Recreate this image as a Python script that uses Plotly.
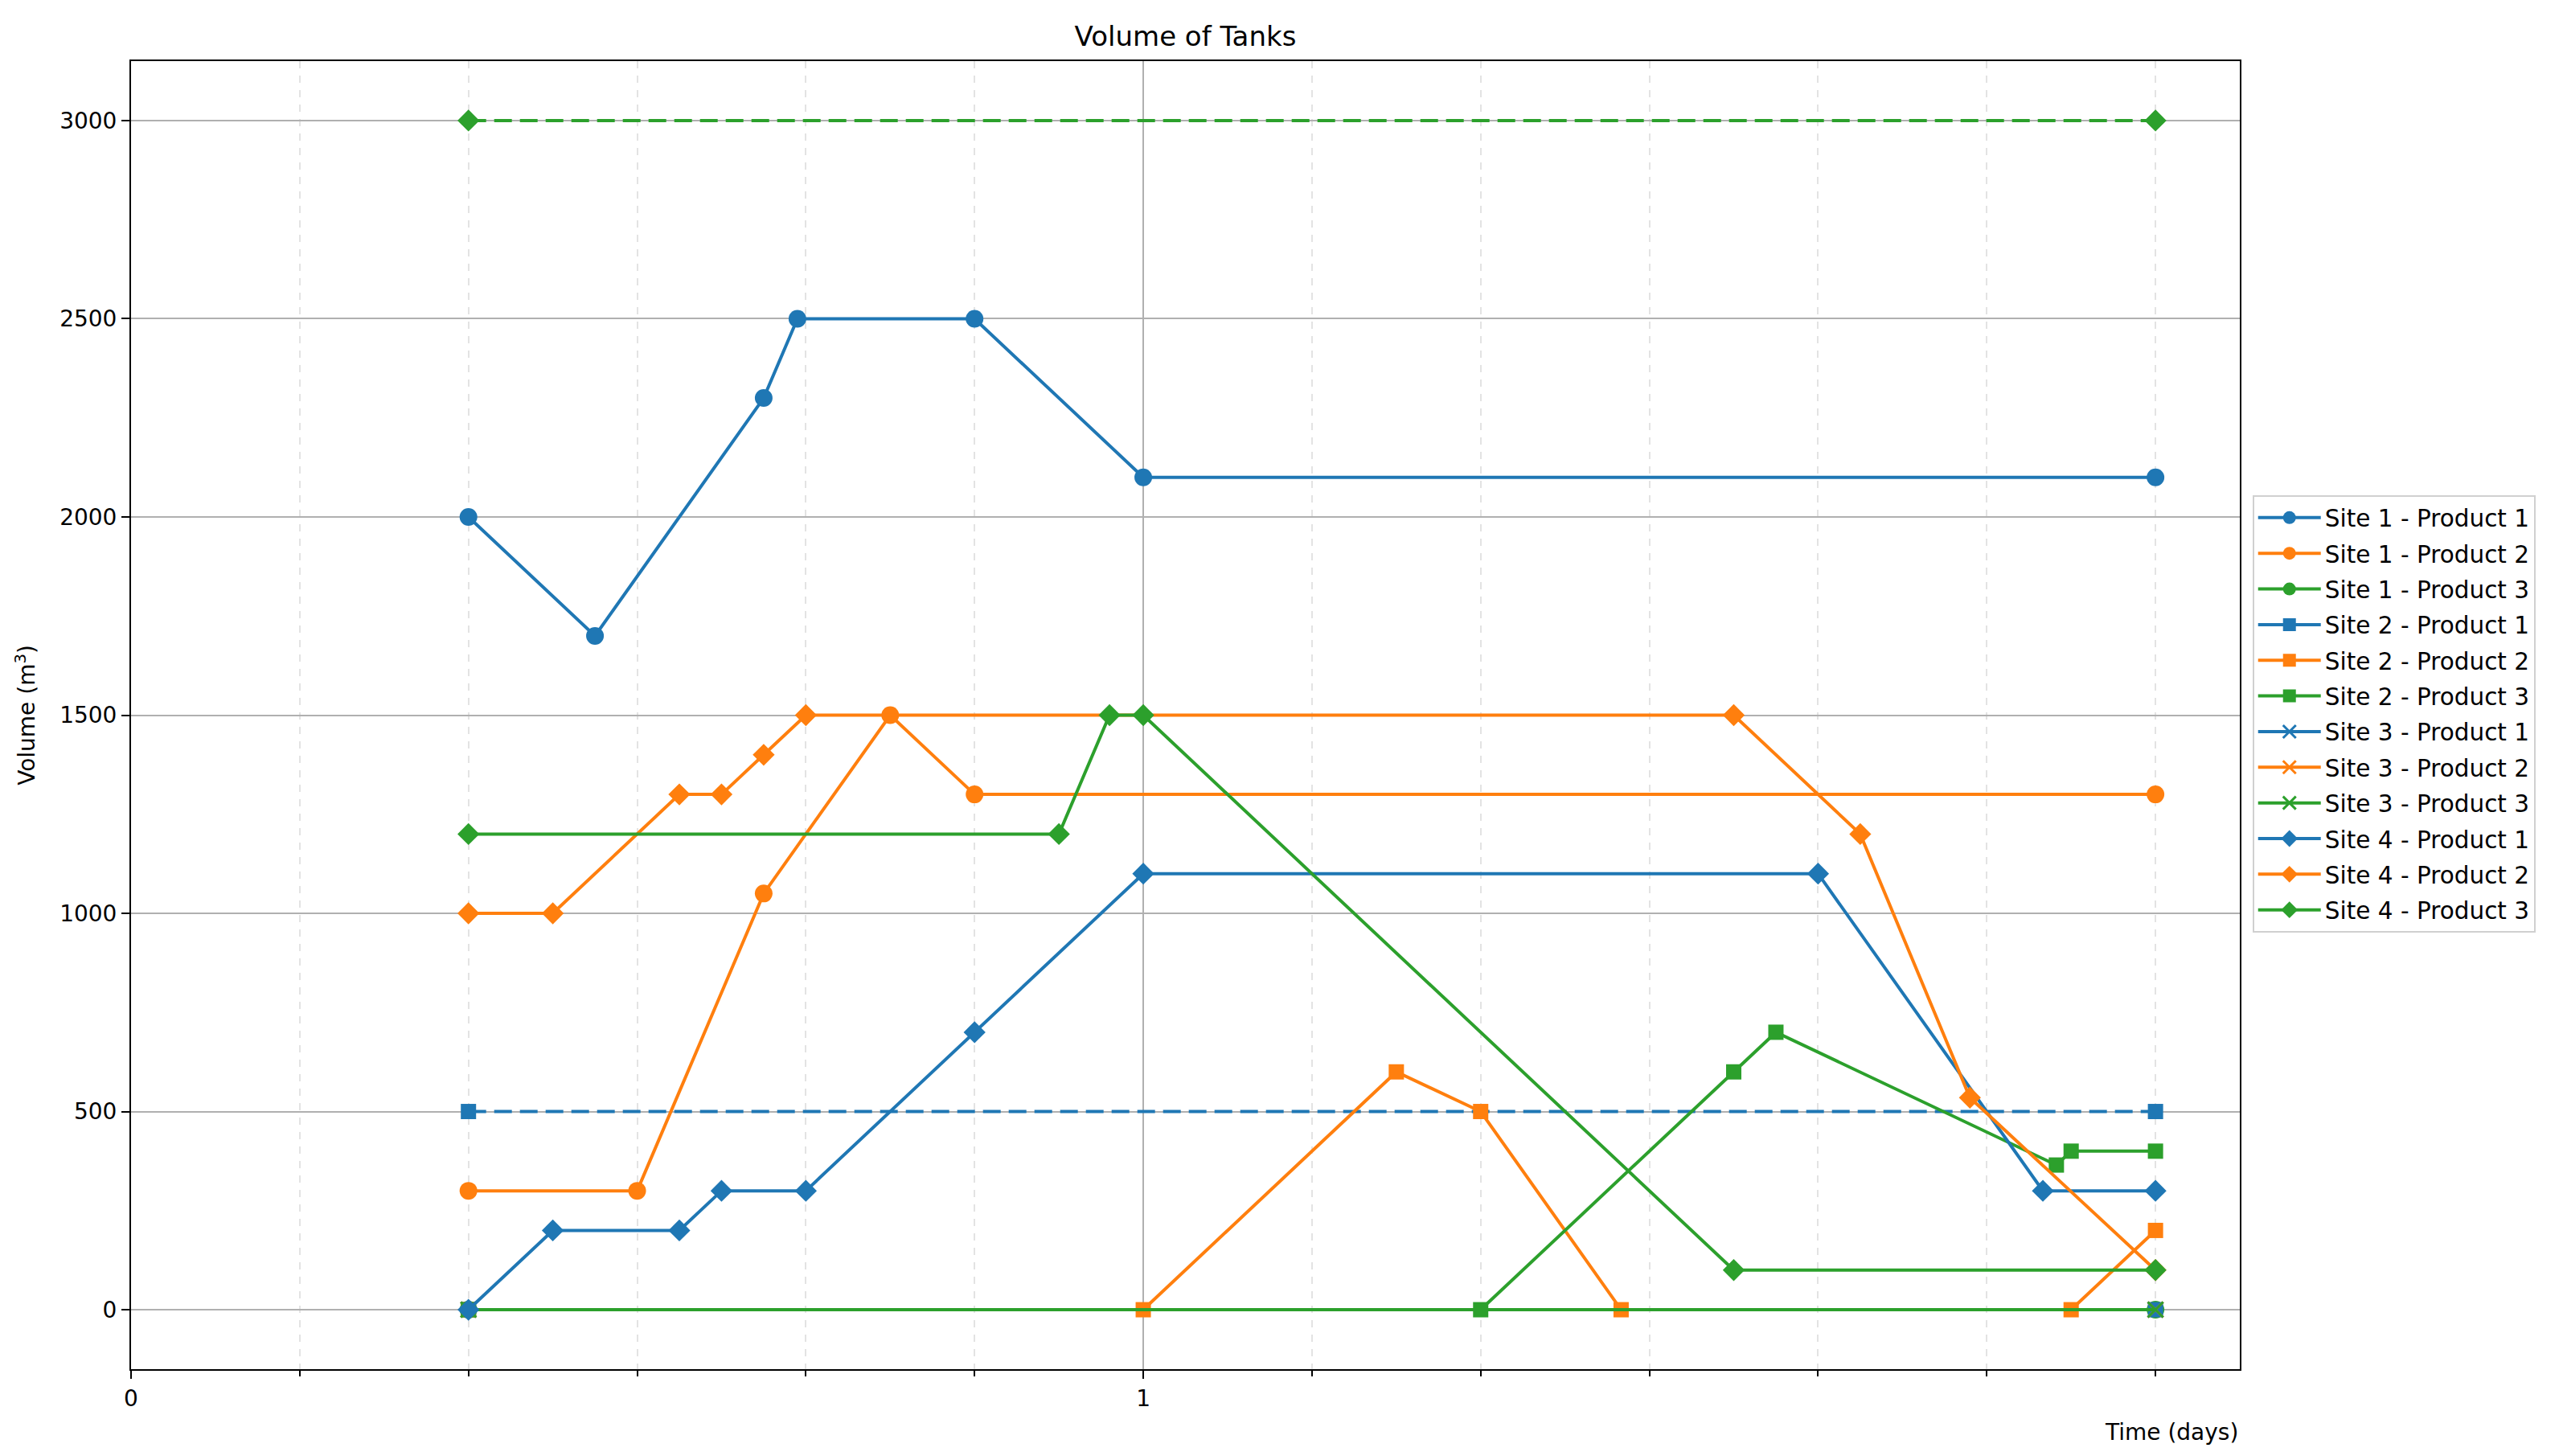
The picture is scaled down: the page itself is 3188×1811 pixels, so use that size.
import plotly.graph_objects as go

# ---------------- data (time in hours, volume in m3) ----------------
s1p1_h = [8, 11, 15, 15.8, 20, 24, 48]
s1p1_v = [2000, 1700, 2300, 2500, 2500, 2100, 2100]

s1p2_h = [8, 12, 15, 18, 20, 48]
s1p2_v = [300, 300, 1050, 1500, 1300, 1300]

s1p3_h = [8, 48]
s1p3_v = [0, 0]

s2p1_h = [8, 48]
s2p1_v = [0, 0]
s2p1_lim_h = [8, 48]
s2p1_lim_v = [500, 500]

s2p2_h = [8, 24, 30, 32, 35.33, 46, 48]
s2p2_v = [0, 0, 600, 500, 0, 0, 200]

s2p3_h = [8, 32, 38, 39, 45.65, 46, 48]
s2p3_v = [0, 0, 600, 700, 365, 400, 400]

s3p1_h = [8, 48]
s3p1_v = [0, 0]
s3p2_h = [8, 48]
s3p2_v = [0, 0]
s3p3_h = [8, 48]
s3p3_v = [0, 0]

s4p1_h = [8, 10, 13, 14, 16, 20, 24, 40, 45.33, 48]
s4p1_v = [0, 200, 200, 300, 300, 700, 1100, 1100, 300, 300]

s4p2_h = [8, 10, 13, 14, 15, 16, 38, 41, 43.6, 48]
s4p2_v = [1000, 1000, 1300, 1300, 1400, 1500, 1500, 1200, 535, 100]

s4p3_h = [8, 22, 23.2, 24, 38, 48]
s4p3_v = [1200, 1200, 1500, 1500, 100, 100]
s4p3_lim_h = [8, 48]
s4p3_lim_v = [3000, 3000]

x_tickvals = [0, 1]
x_ticktext = ["0", "1"]
y_tickvals = [0, 500, 1000, 1500, 2000, 2500, 3000]

BLUE = "#1f77b4"
ORANGE = "#ff7f0e"
GREEN = "#2ca02c"

def days(h):
    return [v / 24 for v in h]

series = [
    ("Site 1 - Product 1", s1p1_h, s1p1_v, BLUE, "circle", "solid", True),
    ("Site 1 - Product 2", s1p2_h, s1p2_v, ORANGE, "circle", "solid", True),
    ("Site 1 - Product 3", s1p3_h, s1p3_v, GREEN, "circle", "solid", True),
    ("Site 2 - Product 1", s2p1_h, s2p1_v, BLUE, "square", "solid", True),
    ("Site 2 - Product 1 limit", s2p1_lim_h, s2p1_lim_v, BLUE, "square", "dash", False),
    ("Site 2 - Product 2", s2p2_h, s2p2_v, ORANGE, "square", "solid", True),
    ("Site 2 - Product 3", s2p3_h, s2p3_v, GREEN, "square", "solid", True),
    ("Site 3 - Product 1", s3p1_h, s3p1_v, BLUE, "x-thin", "solid", True),
    ("Site 3 - Product 2", s3p2_h, s3p2_v, ORANGE, "x-thin", "solid", True),
    ("Site 3 - Product 3", s3p3_h, s3p3_v, GREEN, "x-thin", "solid", True),
    ("Site 4 - Product 1", s4p1_h, s4p1_v, BLUE, "diamond", "solid", True),
    ("Site 4 - Product 2", s4p2_h, s4p2_v, ORANGE, "diamond", "solid", True),
    ("Site 4 - Product 3", s4p3_h, s4p3_v, GREEN, "diamond", "solid", True),
    ("Site 4 - Product 3 limit", s4p3_lim_h, s4p3_lim_v, GREEN, "diamond", "dash", False),
]

msize = {"circle": 22, "square": 19, "diamond": 21, "x-thin": 19}

fig = go.Figure()
for name, h, v, col, sym, dash, show in series:
    marker = dict(symbol=sym, size=msize[sym], color=col)
    if sym == "x-thin":
        marker["line"] = dict(color=col, width=3)
    else:
        marker["line"] = dict(width=0)
    fig.add_trace(go.Scatter(
        x=days(h), y=v, mode="lines+markers", name=name, legendgroup=name,
        line=dict(color=col, width=4, dash="22px,10px" if dash == "dash" else "solid"),
        marker=marker, showlegend=show,
    ))

W, H = 3188, 1811
L, R, T, B = 163, 3188 - 2786, 76, 1811 - 1703

fig.update_layout(
    width=W, height=H,
    margin=dict(l=L, r=R, t=T, b=B, autoexpand=False),
    paper_bgcolor="white", plot_bgcolor="white",
    font=dict(family="DejaVu Sans", size=28, color="black"),
    title=dict(text="Volume of Tanks", x=0.5, xref="paper", xanchor="center",
               y=1 - 45 / H, yanchor="middle", font=dict(size=34)),
    legend=dict(x=1.006, xanchor="left", y=0.668, yanchor="top",
                bgcolor="white", bordercolor="#d0d0d0", borderwidth=2,
                font=dict(size=29.5), tracegroupgap=3, itemwidth=78,
                traceorder="grouped"),
    showlegend=True,
)

fig.update_xaxes(
    range=[0, 2.0833], automargin=False,
    tickmode="array", tickvals=x_tickvals, ticktext=x_ticktext,
    showgrid=True, gridcolor="#b0b0b0", gridwidth=2,
    ticks="outside", ticklen=10, tickwidth=2, tickcolor="black",
    showline=True, linecolor="black", linewidth=2, mirror=True,
    zeroline=False,
    minor=dict(dtick=1 / 6, tick0=0, showgrid=True, gridcolor="#e3e3e3",
               griddash="dash", gridwidth=2, ticks="outside", ticklen=7,
               tickwidth=2, tickcolor="black"),
)
fig.update_yaxes(
    range=[-150, 3150], automargin=False,
    tickmode="array", tickvals=y_tickvals,
    showgrid=True, gridcolor="#b0b0b0", gridwidth=2,
    ticks="outside", ticklen=10, tickwidth=2, tickcolor="black",
    showline=True, linecolor="black", linewidth=2, mirror=True,
    zeroline=False,
    title=dict(text="Volume (m<sup>3</sup>)", standoff=22, font=dict(size=28)),
)

fig.add_annotation(text="Time (days)", xref="paper", yref="paper",
                   x=1, xanchor="right", y=-(1781 - 1703) / (1703 - 76),
                   yanchor="middle", showarrow=False, font=dict(size=28))

fig.write_html("out.html", config={"displayModeBar": False},
               post_script="document.body.style.margin='0';")
